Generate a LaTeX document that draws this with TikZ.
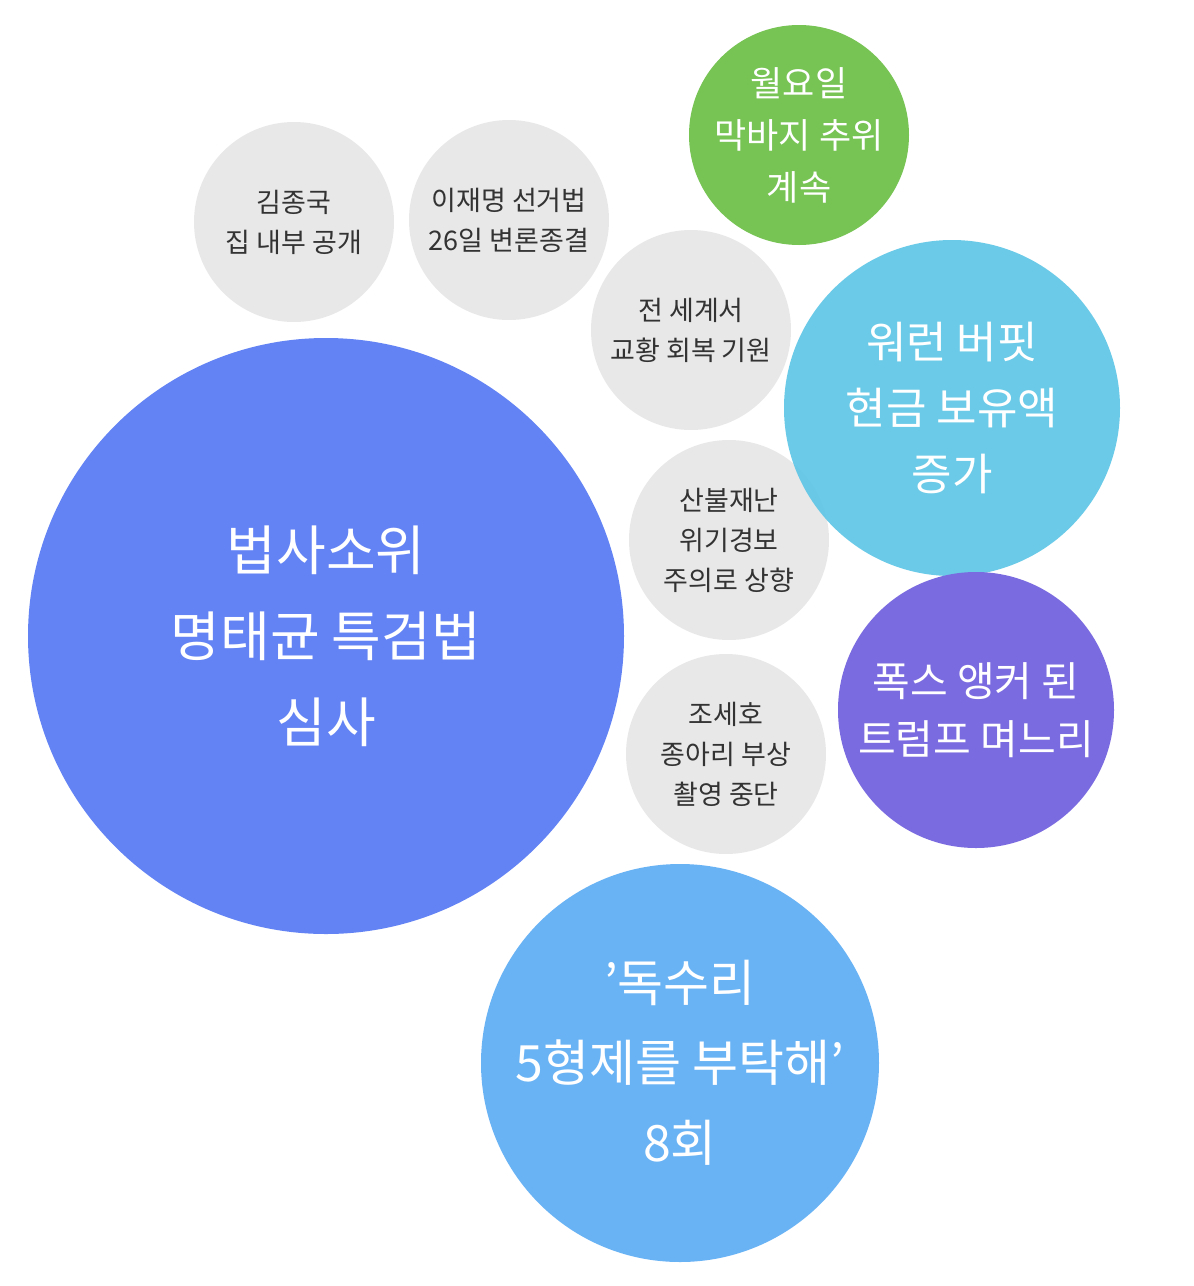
\documentclass[tikz,border=0pt]{standalone}
\usepackage{fontspec}
\setmainfont{Noto Sans CJK KR}
\definecolor{cblue}{HTML}{6383F5}
\definecolor{cgray}{HTML}{E8E8E8}
\definecolor{cgreen}{HTML}{77C353}
\definecolor{ccyan}{HTML}{5EC6E6}
\definecolor{cpurple}{HTML}{7B6BE0}
\definecolor{clblue}{HTML}{69B3F5}
\definecolor{ctext}{HTML}{333333}
\tikzset{
  bub/.style={circle,inner sep=0pt,align=center},
  gbub/.style={bub,fill=cgray,text=ctext,minimum size=200pt,font=\fontsize{27}{40}\selectfont},
}
\begin{document}
\begin{tikzpicture}[x=1pt,y=-1pt]
\useasboundingbox[fill=white] (0,0) rectangle (1194,1286);
\node[bub,fill=cblue,text=white,minimum size=596pt,font=\fontsize{54}{86}\selectfont] (a) at (326,636) {법사소위\\명태균 특검법\\심사};
\node[gbub] (b) at (294,222) {김종국\\집 내부 공개};
\node[gbub] (c) at (509,220) {이재명 선거법\\26일 변론종결};
\node[bub,fill=cgreen,text=white,minimum size=220pt,font=\fontsize{35}{52}\selectfont] (d) at (799,135) {월요일\\막바지 추위\\계속};
\node[gbub] (e) at (691,330) {전 세계서\\교황 회복 기원};
\node[gbub] (g) at (729,540) {산불재난\\위기경보\\주의로 상향};
\node[bub,fill=ccyan,fill opacity=0.92,text opacity=1,text=white,minimum size=336pt,font=\fontsize{44}{66}\selectfont] (f) at (952,408) {워런 버핏\\현금 보유액\\증가};
\node[gbub] (i) at (726,754) {조세호\\종아리 부상\\촬영 중단};
\node[bub,fill=cpurple,text=white,minimum size=276pt,font=\fontsize{41}{58}\selectfont] (h) at (976,710) {폭스 앵커 된\\트럼프 며느리};
\node[bub,fill=clblue,text=white,minimum size=398pt,font=\fontsize{50}{80}\selectfont] (j) at (680,1063) {'독수리\\5형제를 부탁해'\\8회};
\end{tikzpicture}
\end{document}
